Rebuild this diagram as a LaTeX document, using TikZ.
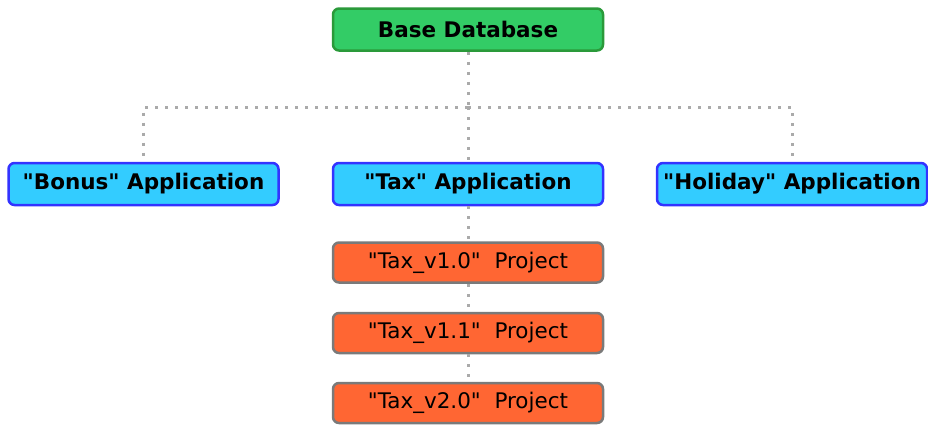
\documentclass[tikz,border=0pt]{standalone}
\usepackage{fontspec}
\setmainfont{DejaVu Sans}
\definecolor{dbgreen}{HTML}{33CC66}
\definecolor{dbgreenline}{HTML}{2A9A3A}
\definecolor{appblue}{HTML}{33CCFF}
\definecolor{appblueline}{HTML}{3333FF}
\definecolor{projorange}{HTML}{FF6633}
\definecolor{projline}{HTML}{7A7A7A}
\definecolor{dotgray}{HTML}{AAAAAA}
\newcommand{\qt}{\textquotedbl}
\begin{document}
\begin{tikzpicture}[
    x=1pt, y=-1pt,
    base/.style={rectangle, rounded corners=6pt, line width=2.5pt, draw=dbgreenline, fill=dbgreen,
        minimum width=270pt, minimum height=42pt, font=\fontsize{21.5}{24}\selectfont\bfseries},
    app/.style={rectangle, rounded corners=6pt, line width=2.5pt, draw=appblueline, fill=appblue,
        minimum width=270pt, minimum height=42pt, font=\fontsize{21.5}{24}\selectfont\bfseries, inner sep=0pt},
    proj/.style={rectangle, rounded corners=6pt, line width=2.5pt, draw=projline, fill=projorange,
        minimum width=270pt, minimum height=40pt, font=\fontsize{21.5}{24}\selectfont},
    link/.style={draw=dotgray, line width=3pt, dash pattern=on 3pt off 7pt}
]
\useasboundingbox (0,0) rectangle (928,424);

% Base database at the top
\node[base] (db) at (468,29.5) {Base Database};

% Applications built on the database
\node[app] (bonus) at (143.5,184) {\qt Bonus\qt{} Application};
\node[app] (tax) at (468,184) {\qt Tax\qt{} Application};
\node[app] (holiday) at (792,184) {\qt Holiday\qt{} Application};

% Projects of the tax application
\node[proj] (v10) at (468,262.5) {\qt Tax\_v1.0\qt\ \ Project};
\node[proj] (v11) at (468,333) {\qt Tax\_v1.1\qt\ \ Project};
\node[proj] (v20) at (468,403) {\qt Tax\_v2.0\qt\ \ Project};

% Connectors
\coordinate (split) at (468,107);
\draw[link] (db) -- (split);
\draw[link] (split) -| (bonus);
\draw[link] (split) -- (tax);
\draw[link] (split) -| (holiday);

\draw[link] (tax) -- (v10);
\draw[link] (v10) -- (v11);
\draw[link] (v11) -- (v20);

\end{tikzpicture}
\end{document}
